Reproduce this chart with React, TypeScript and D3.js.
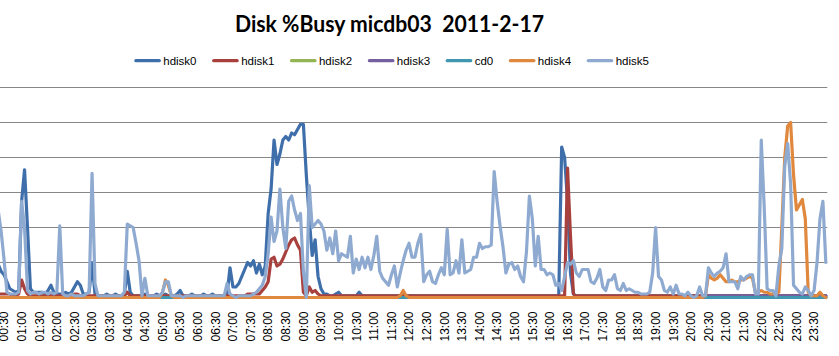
import React, { useEffect, useRef } from "react";
import * as d3 from "d3";

const TITLE = "Disk %Busy micdb03  2011-2-17";
const SERIES_NAMES = ["hdisk0", "hdisk1", "hdisk2", "hdisk3", "cd0", "hdisk4", "hdisk5"];
const SERIES_COLORS = ["#3F6FAB", "#A8413E", "#93B553", "#74609F", "#3F98B0", "#E0883E", "#8FAAD0"];
const Y_TICKS = [0, 20, 40, 60, 80, 100, 120];
const TICK_LABELS = [
  "00:30", "01:00", "01:30", "02:00", "02:30", "03:00", "03:30", "04:00", "04:30", "05:00",
  "05:30", "06:00", "06:30", "07:00", "07:30", "08:00", "08:30", "09:00", "09:30", "10:00",
  "10:30", "11:00", "11:30", "12:00", "12:30", "13:00", "13:30", "14:00", "14:30", "15:00",
  "15:30", "16:00", "16:30", "17:00", "17:30", "18:00", "18:30", "19:00", "19:30", "20:00",
  "20:30", "21:00", "21:30", "22:00", "22:30", "23:00", "23:30",
];
const STEP_MINUTES = 5;

const HDISK0 = [
  20, 22, 25, 22, 19, 15, 13, 9, 5, 4,
  3, 4, 55, 73, 40, 5, 3, 3, 3, 3,
  2, 4, 7, 3, 2, 2, 2, 3, 2, 3,
  6, 9, 7, 2, 2, 3, 20, 2, 1, 1,
  1, 2, 1, 1, 2, 1, 1, 2, 15, 3,
  1, 1, 1, 1, 2, 1, 1, 1, 2, 1,
  1, 2, 1, 1, 1, 2, 4, 1, 1, 1,
  2, 1, 1, 1, 2, 1, 1, 2, 1, 1,
  1, 1, 2, 17, 6, 6, 8, 12, 16, 20,
  18, 21, 14, 19, 13, 18, 48, 62, 90, 76,
  82, 90, 92, 90, 94, 93, 96, 99, 99, 70,
  45, 24, 33, 12, 5, 2, 2, 1, 1, 2,
  3, 1, 1, 1, 1, 1, 1, 3, 1, 1,
  1, 1, 1, 1, 1, 1, 1, 1, 1, 1,
  1, 1, 2, 1, 1, 1, 1, 1, 1, 1,
  1, 1, 1, 1, 1, 1, 1, 1, 1, 1,
  1, 1, 1, 1, 1, 1, 1, 1, 1, 1,
  1, 1, 1, 1, 1, 1, 1, 1, 1, 1,
  1, 1, 1, 1, 1, 1, 1, 1, 1, 1,
  1, 1, 1, 1, 1, 1, 86, 80, 55, 14,
  2, 1, 1, 1, 1, 1, 1, 1, 1, 1,
  1, 1, 1, 1, 1, 1, 1, 1, 1, 1,
  1, 1, 1, 1, 1, 1, 1, 1, 1, 1,
  1, 1, 1, 1, 1, 1, 1, 1, 1, 1,
  1, 1, 1, 1, 1, 1, 1, 1, 1, 1,
  1, 1, 1, 1, 1, 1, 1, 1, 1, 1,
  1, 1, 1, 1, 1, 1, 1, 1, 1, 1,
  1, 1, 1, 1, 1, 1, 1, 1, 1, 1,
  1, 1, 1, 1, 1, 1, 1,
];

const HDISK1 = [
  2, 2, 2, 2, 2, 2, 2, 2, 2, 1,
  1, 2, 10, 5, 2, 1, 1, 1, 1, 1,
  1, 1, 2, 1, 1, 1, 1, 1, 1, 1,
  2, 2, 1, 1, 1, 1, 1, 1, 1, 1,
  1, 1, 1, 1, 1, 1, 1, 1, 3, 1,
  1, 1, 1, 1, 1, 1, 1, 1, 1, 1,
  1, 1, 1, 1, 1, 1, 1, 1, 1, 1,
  1, 1, 1, 1, 1, 1, 1, 1, 1, 1,
  1, 1, 1, 1, 1, 1, 1, 1, 1, 2,
  2, 2, 2, 2, 4, 6, 9, 22, 23, 18,
  19, 22, 26, 30, 33, 34, 30, 27, 3, 1,
  6, 3, 4, 2, 1, 1, 1, 1, 1, 1,
  1, 1, 1, 1, 1, 1, 1, 1, 1, 1,
  1, 1, 1, 1, 1, 1, 1, 1, 1, 1,
  1, 1, 1, 1, 1, 1, 1, 1, 1, 1,
  1, 1, 1, 1, 1, 1, 1, 1, 1, 1,
  1, 1, 1, 1, 1, 1, 1, 1, 1, 1,
  1, 1, 1, 1, 1, 1, 1, 1, 1, 1,
  1, 1, 1, 1, 1, 1, 1, 1, 1, 1,
  1, 1, 1, 1, 1, 1, 1, 1, 74, 35,
  2, 1, 1, 1, 1, 1, 1, 1, 1, 1,
  1, 1, 1, 1, 1, 1, 1, 1, 1, 1,
  1, 1, 1, 1, 1, 1, 1, 1, 1, 1,
  1, 1, 1, 1, 1, 1, 1, 1, 1, 1,
  1, 1, 1, 1, 1, 1, 1, 1, 1, 1,
  1, 1, 1, 1, 1, 1, 1, 1, 1, 1,
  1, 1, 1, 1, 1, 1, 1, 1, 1, 1,
  1, 1, 1, 1, 1, 1, 1, 1, 1, 1,
  1, 1, 1, 1, 1, 1, 1,
];

const HDISK2 = [
  0, 0, 0, 0, 0, 0, 0, 0, 0, 0, 0, 0, 0, 0, 0, 0, 0, 0, 0, 0,
  0, 0, 0, 0, 0, 0, 0, 0, 0, 0, 0, 0, 0, 0, 0, 0, 0, 0, 0, 0,
  0, 0, 0, 0, 0, 0, 0, 0, 0, 0, 0, 0, 0, 0, 0, 0, 0, 0, 0, 0,
  0, 0, 0, 0, 0, 0, 0, 0, 0, 0, 0, 0, 0, 0, 0, 0, 0, 0, 0, 0,
  0, 0, 0, 0, 0, 0, 0, 0, 0, 0, 0, 0, 0, 0, 0, 0, 0, 0, 0, 0,
  0, 0, 0, 0, 0, 0, 0, 0, 0, 0, 0, 0, 0, 0, 0, 0, 0, 0, 0, 0,
  0, 0, 0, 0, 0, 0, 0, 0, 0, 0, 0, 0, 0, 0, 0, 0, 0, 0, 0, 0,
  0, 0, 0, 0, 0, 0, 0, 0, 0, 0, 0, 0, 0, 0, 0, 0, 0, 0, 0, 0,
  0, 0, 0, 0, 0, 0, 0, 0, 0, 0, 0, 0, 0, 0, 0, 0, 0, 0, 0, 0,
  0, 0, 0, 0, 0, 0, 0, 0, 0, 0, 0, 0, 0, 0, 0, 0, 0, 0, 0, 0,
  0, 0, 0, 0, 0, 0, 0, 0, 0, 0, 0, 0, 0, 0, 0, 0, 0, 0, 0, 0,
  0, 0, 0, 0, 0, 0, 0, 0, 0, 0, 0, 0, 0, 0, 0, 0, 0, 0, 0, 0,
  0, 0, 0, 0, 0, 0, 0, 0, 0, 0, 0, 0, 0, 0, 0, 0, 0, 0, 0, 0,
  0, 0, 0, 0, 0, 0, 0, 0, 0, 0, 0, 0, 0, 0, 0, 0, 0, 0, 0, 0,
  0, 0, 0, 0, 0, 0, 0,
];

const HDISK3 = [
  0, 0, 0, 0, 0, 0, 0, 0, 0, 0, 0, 0, 0, 0, 0, 0, 0, 0, 0, 0,
  0, 0, 0, 0, 0, 0, 0, 0, 0, 0, 0, 0, 0, 0, 0, 0, 0, 0, 0, 0,
  0, 0, 0, 0, 0, 0, 0, 0, 0, 0, 0, 0, 0, 0, 0, 0, 0, 0, 0, 0,
  0, 0, 0, 0, 0, 0, 0, 0, 0, 0, 0, 0, 0, 0, 0, 0, 0, 0, 0, 0,
  0, 0, 0, 0, 0, 0, 0, 0, 0, 0, 0, 0, 0, 0, 0, 0, 0, 0, 0, 0,
  0, 0, 0, 0, 0, 0, 0, 0, 0, 0, 0, 0, 0, 0, 0, 0, 0, 0, 0, 0,
  0, 0, 0, 0, 0, 0, 0, 0, 0, 0, 0, 0, 0, 0, 0, 0, 0, 0, 0, 0,
  0, 0, 0, 0, 0, 0, 0, 0, 0, 0, 0, 0, 0, 0, 0, 0, 0, 0, 0, 0,
  0, 0, 0, 0, 0, 0, 0, 0, 0, 0, 0, 0, 0, 0, 0, 0, 0, 0, 0, 0,
  0, 0, 0, 0, 0, 0, 0, 0, 0, 0, 0, 0, 0, 0, 0, 0, 0, 0, 0, 0,
  0, 0, 0, 0, 0, 0, 0, 0, 0, 0, 0, 0, 0, 0, 0, 0, 0, 0, 0, 0,
  0, 0, 0, 0, 0, 0, 0, 0, 0, 0, 0, 0, 0, 0, 0, 0, 0, 0, 0, 0,
  0, 0, 0, 0, 0, 0, 1, 1, 1, 1, 1, 1, 1, 1, 1, 1, 1, 1, 1, 1,
  1, 1, 1, 1, 1, 1, 1, 1, 1, 1, 1, 1, 1, 1, 1, 1, 1, 1, 1, 1,
  1, 1, 1, 1, 1, 1, 1,
];

const CD0 = [
  0, 0, 0, 0, 0, 0, 0, 0, 0, 0, 0, 0, 0, 0, 0, 0, 0, 0, 0, 0,
  0, 0, 0, 0, 0, 0, 0, 0, 0, 0, 0, 0, 0, 0, 0, 0, 0, 0, 0, 0,
  0, 0, 0, 0, 0, 0, 0, 0, 0, 0, 0, 0, 0, 0, 0, 0, 0, 0, 0, 0,
  0, 0, 0, 0, 0, 0, 0, 0, 0, 0, 0, 0, 0, 0, 0, 0, 0, 0, 0, 0,
  0, 0, 0, 0, 0, 0, 0, 0, 0, 0, 0, 0, 0, 0, 0, 0, 0, 0, 0, 0,
  0, 0, 0, 0, 0, 0, 0, 0, 0, 0, 0, 0, 0, 0, 0, 0, 0, 0, 0, 0,
  0, 0, 0, 0, 0, 0, 0, 0, 0, 0, 0, 0, 0, 0, 0, 0, 0, 0, 0, 0,
  0, 0, 0, 0, 0, 0, 0, 0, 0, 0, 0, 0, 0, 0, 0, 0, 0, 0, 0, 0,
  0, 0, 0, 0, 0, 0, 0, 0, 0, 0, 0, 0, 0, 0, 0, 0, 0, 0, 0, 0,
  0, 0, 0, 0, 0, 0, 0, 0, 0, 0, 0, 0, 0, 0, 0, 0, 0, 0, 0, 0,
  0, 0, 0, 0, 0, 0, 0, 0, 0, 0, 0, 0, 0, 0, 0, 0, 0, 0, 0, 0,
  0, 0, 0, 0, 0, 0, 0, 0, 0, 0, 0, 0, 0, 0, 0, 0, 0, 0, 0, 0,
  0, 0, 0, 0, 0, 0, 0, 0, 0, 0, 0, 0, 0, 0, 0, 0, 0, 0, 0, 0,
  0, 0, 0, 0, 0, 0, 0, 0, 0, 0, 0, 0, 0, 0, 0, 0, 0, 0, 0, 0,
  0, 0, 0, 0, 0, 0, 0,
];

const HDISK4 = [
  0, 0, 0, 0, 0, 0, 0, 0, 0, 0,
  0, 0, 0, 0, 0, 0, 0, 0, 0, 0,
  0, 0, 0, 0, 0, 0, 0, 0, 0, 0,
  0, 0, 0, 0, 0, 0, 0, 0, 0, 0,
  0, 0, 0, 0, 0, 0, 0, 0, 0, 0,
  0, 0, 0, 0, 0, 0, 0, 0, 0, 0,
  3, 10, 7, 1, 0, 0, 0, 0, 0, 0,
  0, 0, 0, 0, 0, 0, 0, 0, 0, 0,
  0, 0, 0, 0, 0, 0, 0, 0, 0, 0,
  0, 0, 0, 0, 0, 0, 0, 0, 0, 0,
  0, 0, 0, 0, 0, 0, 0, 0, 0, 0,
  0, 0, 0, 0, 0, 0, 0, 0, 0, 0,
  0, 0, 0, 0, 0, 0, 0, 0, 0, 0,
  0, 0, 0, 0, 0, 0, 0, 0, 0, 0,
  0, 1, 4, 1, 0, 0, 0, 0, 0, 0,
  0, 0, 0, 0, 0, 0, 0, 0, 0, 0,
  0, 0, 0, 0, 0, 0, 0, 0, 0, 0,
  0, 0, 0, 0, 0, 0, 0, 0, 0, 0,
  0, 0, 0, 0, 0, 0, 0, 0, 0, 0,
  0, 0, 0, 0, 0, 0, 0, 0, 0, 0,
  0, 0, 0, 0, 0, 0, 0, 0, 0, 0,
  0, 0, 0, 0, 0, 0, 0, 0, 0, 0,
  0, 0, 0, 0, 0, 0, 0, 0, 0, 0,
  0, 0, 0, 0, 0, 0, 0, 0, 0, 0,
  0, 0, 0, 0, 0, 1, 13, 11, 10, 11,
  13, 11, 9, 9, 10, 9, 9, 10, 10, 11,
  12, 11, 3, 3, 4, 3, 3, 2, 2, 2,
  3, 40, 80, 98, 100, 70, 50, 53, 56, 45,
  3, 1, 1, 1, 3, 1, 0,
];

const HDISK5 = [
  30, 42, 55, 58, 50, 38, 22, 3, 2, 2,
  2, 3, 55, 40, 4, 2, 3, 3, 2, 3,
  3, 2, 3, 2, 3, 41, 2, 1, 1, 2,
  1, 1, 1, 1, 2, 3, 71, 8, 1, 1,
  1, 1, 1, 1, 1, 1, 1, 3, 42, 41,
  40, 31, 21, 1, 11, 1, 1, 1, 1, 1,
  3, 9, 9, 1, 1, 1, 1, 0, 1, 1,
  1, 1, 1, 1, 1, 1, 1, 1, 1, 1,
  1, 1, 8, 2, 1, 0, 1, 1, 1, 1,
  1, 2, 3, 5, 7, 12, 25, 46, 32, 38,
  62, 40, 28, 55, 58, 50, 44, 48, 15, 0,
  64, 40, 42, 44, 42, 38, 27, 34, 25, 38,
  21, 25, 24, 23, 35, 14, 22, 16, 23, 17,
  23, 16, 24, 35, 15, 11, 9, 7, 13, 18,
  6, 14, 21, 27, 31, 23, 23, 31, 36, 9,
  13, 15, 9, 8, 13, 17, 13, 39, 13, 14,
  21, 14, 33, 14, 15, 16, 23, 23, 31, 28,
  29, 29, 30, 72, 55, 41, 29, 14, 19, 20,
  16, 18, 12, 9, 26, 58, 45, 18, 35, 16,
  16, 13, 14, 13, 7, 8, 4, 12, 20, 19,
  21, 14, 12, 16, 16, 16, 9, 8, 11, 16,
  6, 4, 10, 10, 13, 5, 4, 8, 4, 5,
  4, 3, 3, 2, 2, 2, 3, 14, 40, 12,
  10, 4, 3, 6, 2, 7, 2, 2, 1, 3,
  1, 0, 1, 6, 1, 1, 17, 14, 12, 14,
  15, 17, 25, 9, 9, 9, 5, 12, 10, 12,
  13, 13, 2, 2, 90, 52, 5, 4, 4, 1,
  18, 28, 75, 88, 65, 7, 5, 3, 2, 6,
  4, 1, 4, 20, 45, 55, 20,
];

const SERIES_VALUES = [HDISK0, HDISK1, HDISK2, HDISK3, CD0, HDISK4, HDISK5];

const W = 839;
const H = 356;
const PLOT_LEFT = -15.07;
const PLOT_RIGHT = 827.3;
const PLOT_TOP = 87.5;
const PLOT_BOTTOM = 297.5;

const pad = (n: number) => String(n).padStart(2, "0");
const CATEGORIES = HDISK5.map((_, i) => {
  const m = i * STEP_MINUTES;
  return `${pad(Math.floor(m / 60))}:${pad(m % 60)}`;
});

export default function App() {
  const ref = useRef<SVGSVGElement>(null);

  useEffect(() => {
    const svg = d3.select(ref.current);
    svg.selectAll("*").remove();

    svg.append("rect").attr("width", W).attr("height", H).attr("fill", "#fff");

    const x = d3.scaleBand<string>().domain(CATEGORIES).range([PLOT_LEFT, PLOT_RIGHT]).paddingInner(0).paddingOuter(0);
    const xc = (c: string) => (x(c) as number) + x.bandwidth() / 2;
    const y = d3.scaleLinear().domain([0, 120]).range([PLOT_BOTTOM, PLOT_TOP]);

    // gridlines
    svg.append("g")
      .selectAll("line")
      .data(Y_TICKS)
      .join("line")
      .attr("x1", PLOT_LEFT)
      .attr("x2", PLOT_RIGHT)
      .attr("y1", (d) => y(d))
      .attr("y2", (d) => y(d))
      .attr("stroke", "#878787")
      .attr("stroke-width", 1);

    // title
    svg.append("text")
      .attr("x", 389.5)
      .attr("y", 32)
      .attr("text-anchor", "middle")
      .attr("font-family", "Lato, 'Open Sans', sans-serif")
      .attr("font-weight", "bold")
      .attr("font-size", 22)
      .attr("textLength", 309)
      .attr("lengthAdjust", "spacingAndGlyphs")
      .style("white-space", "pre")
      .attr("fill", "#000")
      .text(TITLE);

    // legend
    const legend = svg.append("g");
    const items: { g: any; w: number }[] = [];
    SERIES_NAMES.forEach((name, k) => {
      const g = legend.append("g");
      g.append("line")
        .attr("x1", 1.6)
        .attr("x2", 25)
        .attr("y1", 60.7)
        .attr("y2", 60.7)
        .attr("stroke", SERIES_COLORS[k])
        .attr("stroke-width", 3.3)
        .attr("stroke-linecap", "round");
      const t = g.append("text")
        .attr("x", 29)
        .attr("y", 64.8)
        .attr("font-family", "'Liberation Sans', Arial, sans-serif")
        .attr("font-size", 11.5)
        .attr("fill", "#000")
        .text(name);
      const tw = (t.node() as SVGTextElement).getComputedTextLength();
      items.push({ g, w: 29 + tw });
    });
    const gap = 15.6;
    const total = d3.sum(items, (d) => d.w) + gap * (items.length - 1);
    let cx = 391.6 - total / 2;
    items.forEach((it) => {
      it.g.attr("transform", `translate(${cx},0)`);
      cx += it.w + gap;
    });

    // x tick labels
    svg.append("g")
      .selectAll("text")
      .data(TICK_LABELS)
      .join("text")
      .attr("transform", (d) => `translate(${xc(d)},311.5) rotate(-90)`)
      .attr("text-anchor", "end")
      .attr("dy", "0.36em")
      .attr("font-family", "'Liberation Sans', Arial, sans-serif")
      .attr("font-size", 12)
      .attr("fill", "#000")
      .text((d) => d);

    // series lines
    const line = d3.line<number>()
      .x((_, i) => xc(CATEGORIES[i]))
      .y((d) => y(d));

    svg.append("g")
      .selectAll("path")
      .data(SERIES_VALUES)
      .join("path")
      .attr("d", (d) => line(d))
      .attr("fill", "none")
      .attr("stroke", (_, k) => SERIES_COLORS[k])
      .attr("stroke-width", 3.2)
      .attr("stroke-linejoin", "round")
      .attr("stroke-linecap", "round");
  }, []);

  return (
    <svg
      ref={ref}
      width={W}
      height={H}
      style={{ position: "absolute", left: 0, top: 0, display: "block" }}
    />
  );
}
